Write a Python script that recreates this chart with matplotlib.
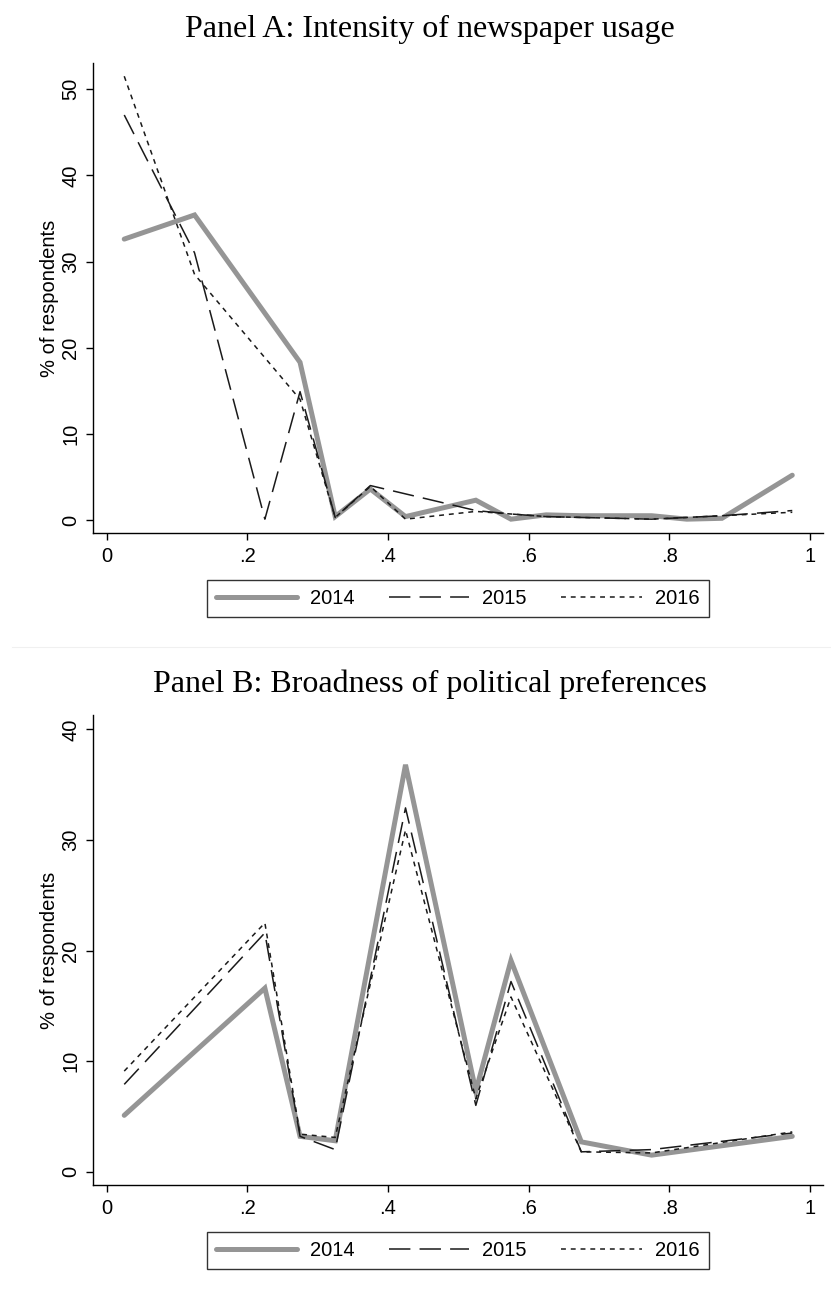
import matplotlib
matplotlib.use("Agg")
import matplotlib.pyplot as plt
from matplotlib.lines import Line2D

# ---------------- data ----------------
years = ["2014", "2015", "2016"]

# Panel A: Intensity of newspaper usage
a_x_2014 = [0.025, 0.125, 0.275, 0.325, 0.375, 0.425, 0.525, 0.575, 0.625, 0.675, 0.775, 0.825, 0.875, 0.975]
a_y_2014 = [32.6, 35.4, 18.3, 0.4, 3.6, 0.4, 2.3, 0.1, 0.6, 0.5, 0.5, 0.1, 0.2, 5.2]
a_x_2015 = [0.025, 0.125, 0.225, 0.275, 0.325, 0.375, 0.525, 0.575, 0.625, 0.675, 0.775, 0.825, 0.875, 0.975]
a_y_2015 = [47.0, 31.0, 0.1, 14.9, 0.3, 4.0, 1.1, 0.7, 0.4, 0.3, 0.1, 0.3, 0.5, 1.1]
a_x_2016 = [0.025, 0.125, 0.275, 0.325, 0.375, 0.425, 0.525, 0.575, 0.625, 0.675, 0.775, 0.825, 0.875, 0.975]
a_y_2016 = [51.5, 28.5, 14.0, 0.3, 3.9, 0.1, 1.0, 0.7, 0.4, 0.3, 0.1, 0.3, 0.5, 0.9]

# Panel B: Broadness of political preferences
b_x = [0.025, 0.225, 0.275, 0.325, 0.425, 0.525, 0.575, 0.675, 0.775, 0.975]
b_y_2014 = [5.1, 16.6, 3.2, 2.8, 36.8, 7.3, 19.1, 2.7, 1.5, 3.2]
b_y_2015 = [7.9, 21.6, 3.2, 2.0, 32.9, 6.0, 17.2, 1.8, 2.0, 3.5]
b_y_2016 = [9.1, 22.5, 3.4, 3.1, 30.9, 6.6, 15.8, 1.8, 1.7, 3.6]

x_ticks = [0, 0.2, 0.4, 0.6, 0.8, 1.0]
x_ticklabels = ["0", ".2", ".4", ".6", ".8", "1"]
a_yticks = [0, 10, 20, 30, 40, 50]
b_yticks = [0, 10, 20, 30, 40]

title_a = "Panel A: Intensity of newspaper usage"
title_b = "Panel B: Broadness of political preferences"
ylabel = "% of respondents"

# ---------------- style ----------------
plt.rcParams["font.family"] = ["Liberation Sans", "DejaVu Sans"]
FS = 14.5
styles = [
    dict(color="#959595", lw=3.6, linestyle="-", solid_capstyle="round", solid_joinstyle="miter"),
    dict(color="#1a1a1a", lw=1.1, linestyle=(0, (14, 6))),
    dict(color="#1a1a1a", lw=1.1, linestyle=(0, (3.2, 3.2))),
]

W, H = 831, 1291
fig = plt.figure(figsize=(W / 100, H / 100), dpi=100)

def px_axes(left, top, right, bottom):
    return fig.add_axes([left / W, 1 - bottom / H, (right - left) / W, (bottom - top) / H])

axA = px_axes(93.3, 63.3, 822.5, 533.3)
axB = px_axes(93.3, 715.0, 822.5, 1185.0)

def style_axes(ax, yticks, ylim):
    for s in ["top", "right"]:
        ax.spines[s].set_visible(False)
    for s in ["left", "bottom"]:
        ax.spines[s].set_linewidth(1.0)
        ax.spines[s].set_color("black")
    ax.set_xlim(-0.019, 1.018)
    ax.set_ylim(*ylim)
    ax.set_xticks(x_ticks)
    ax.set_xticklabels(x_ticklabels)
    ax.set_yticks(yticks)
    ax.set_yticklabels([str(t) for t in yticks], rotation=90, va="center")
    ax.tick_params(axis="both", direction="out", length=5, width=1.0, labelsize=FS, colors="black")
    ax.tick_params(axis="x", pad=5)
    ax.tick_params(axis="y", pad=4.5)
    ax.set_ylabel(ylabel, fontsize=FS, labelpad=1.5)

# Panel A lines
axA.plot(a_x_2014, a_y_2014, **styles[0])
axA.plot(a_x_2015, a_y_2015, **styles[1])
axA.plot(a_x_2016, a_y_2016, **styles[2])
style_axes(axA, a_yticks, (-1.54, 53.0))

# Panel B lines
axB.plot(b_x, b_y_2014, **styles[0])
axB.plot(b_x, b_y_2015, **styles[1])
axB.plot(b_x, b_y_2016, **styles[2])
style_axes(axB, b_yticks, (-1.2, 41.3))

handles = [Line2D([], [], **st) for st in styles]
for ax in (axA, axB):
    leg = ax.legend(handles, years, loc="upper center", bbox_to_anchor=(0.5, -0.099),
                    ncol=3, frameon=True, fancybox=False, fontsize=FS,
                    handlelength=4.0, handletextpad=0.65, columnspacing=1.7,
                    borderpad=0.45, borderaxespad=0.0)
    leg.get_frame().set_edgecolor("black")
    leg.get_frame().set_linewidth(1.0)

# Titles
serif = ["Liberation Serif", "DejaVu Serif"]
tA = fig.text(430 / W, 1 - 29 / H, title_a, ha="center", va="center", fontsize=20, family=serif)
tB = fig.text(430 / W, 1 - 684 / H, title_b, ha="center", va="center", fontsize=20, family=serif)
fig.canvas.draw()
r = fig.canvas.get_renderer()
wA = tA.get_window_extent(r).width
scale = 490.0 / wA
tA.set_fontsize(20 * scale)
tB.set_fontsize(20 * scale)

# faint separator between panels
fig.add_artist(Line2D([12 / W, 1.0], [1 - 647 / H, 1 - 647 / H], color="#f0f0f0", lw=0.8))

fig.savefig("out.png", dpi=100, facecolor="white")
